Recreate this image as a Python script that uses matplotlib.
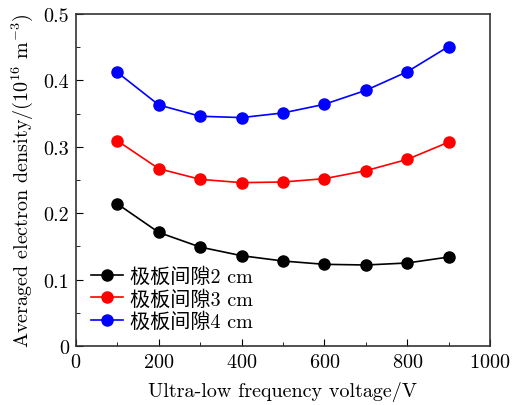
import matplotlib
matplotlib.use('agg')
import matplotlib.pyplot as plt
from matplotlib.ticker import MultipleLocator, FuncFormatter

voltage = [100, 200, 300, 400, 500, 600, 700, 800, 900]
gap2 = [0.214, 0.171, 0.149, 0.136, 0.128, 0.123, 0.122, 0.125, 0.134]
gap3 = [0.309, 0.267, 0.251, 0.246, 0.247, 0.252, 0.264, 0.281, 0.307]
gap4 = [0.412, 0.363, 0.346, 0.344, 0.351, 0.364, 0.385, 0.413, 0.451]
labels = ['极板间隙2 cm', '极板间隙3 cm', '极板间隙4 cm']
colors = ['black', 'red', 'blue']

plt.rcParams['font.family'] = ['cmr10', 'Noto Sans CJK SC']
plt.rcParams['mathtext.fontset'] = 'cm'
plt.rcParams['axes.formatter.use_mathtext'] = True

fig = plt.figure(figsize=(5.12, 4.06), dpi=100)
ax = fig.add_axes([76/512, 1 - 347/406, 414/512, 332/406])

for ys, lab, c in zip([gap2, gap3, gap4], labels, colors):
	ax.plot(voltage, ys, '-o', color=c, lw=1.2, ms=8, label=lab)

ax.set_xlim(0, 1000)
ax.set_ylim(0, 0.5)
ax.xaxis.set_major_locator(MultipleLocator(200))
ax.xaxis.set_minor_locator(MultipleLocator(100))
ax.yaxis.set_major_locator(MultipleLocator(0.1))
ax.yaxis.set_minor_locator(MultipleLocator(0.05))
ax.yaxis.set_major_formatter(FuncFormatter(lambda v, p: '0' if abs(v) < 1e-9 else '%.1f' % v))
ax.tick_params(which='both', direction='in', labelsize=14.5)
ax.tick_params(which='major', length=5, pad=5)
ax.tick_params(which='minor', length=3)
for sp in ax.spines.values():
	sp.set_linewidth(1.2)
	sp.set_color('#333333')

ax.set_xlabel('Ultra-low frequency voltage/V', fontsize=14.5, labelpad=7)
ax.set_ylabel('Averaged electron density/(10$^{16}$ m$^{-3}$)', fontsize=14.5, labelpad=6)
ax.legend(loc='lower left', frameon=False, fontsize=14.5, handlelength=1.6,
	handletextpad=0.35, labelspacing=0.15, borderaxespad=0.45, borderpad=0.3)

fig.savefig('out.png', dpi=100)
